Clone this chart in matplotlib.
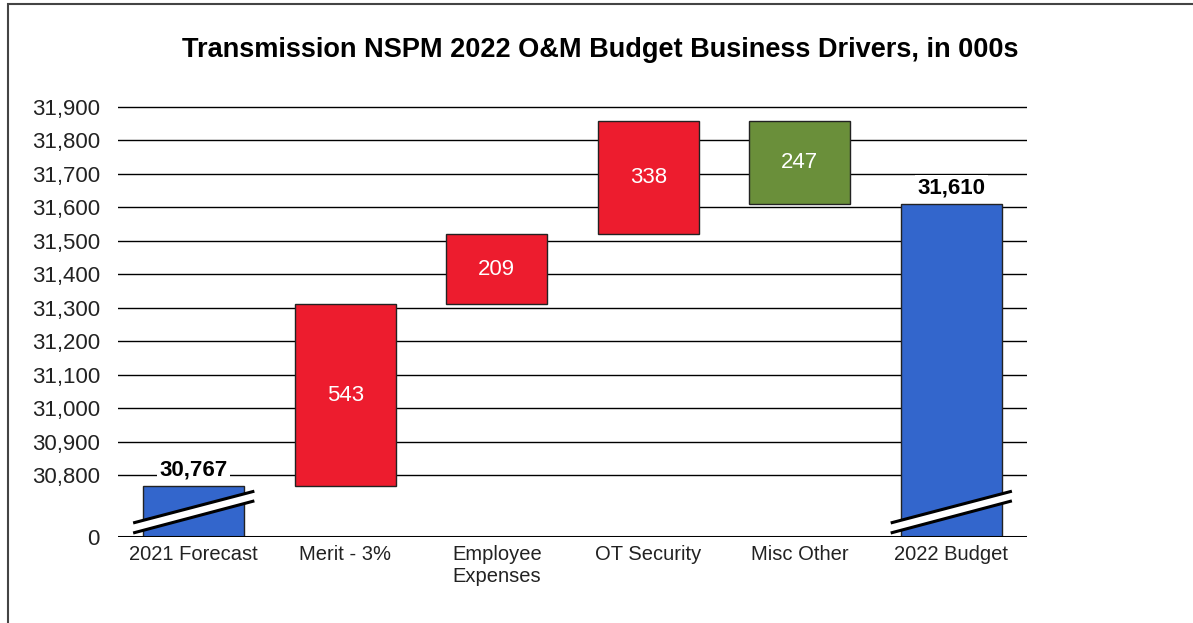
import matplotlib
matplotlib.use("Agg")
import matplotlib.pyplot as plt
from matplotlib.patches import Rectangle, Polygon

plt.rcParams['font.family'] = ['Liberation Sans', 'DejaVu Sans']

# waterfall data, in 000s
categories = ["2021 Forecast", "Merit - 3%", "Employee\nExpenses", "OT Security", "Misc Other", "2022 Budget"]
start_total = 30767
changes = [543, 209, 338, -247]
end_total = 31610
tick_values = [0, 30800, 30900, 31000, 31100, 31200, 31300, 31400, 31500, 31600, 31700, 31800, 31900]

BLUE = '#3366cc'
RED = '#ed1c2e'
GREEN = '#6a8f3a'

# broken axis: everything between 0 and ~30,615 is squeezed out
OFFSET = 30615


def to_axis(v):
    return 0 if v == 0 else v - OFFSET


fig = plt.figure(figsize=(11.93, 6.23), dpi=100)
ax = fig.add_axes([0.0989, 0.138, 0.762, 0.693])

# outer frame, runs off the right and bottom edge
fig.patches.append(Rectangle((8 / 1193, -0.1), 1.2, 1 - 4 / 623 + 0.1, transform=fig.transFigure,
                             fill=False, edgecolor='#444444', linewidth=1.5))

w = 0.667
x = list(range(len(categories)))

# totals
for xi, total in [(0, start_total), (5, end_total)]:
    ax.bar(xi, to_axis(total), width=w, color=BLUE, edgecolor='#222222', linewidth=1, zorder=2)
    ax.annotate(f"{total:,}", (xi, to_axis(total)), xytext=(0, 4), textcoords='offset points',
                ha='center', va='bottom', fontsize=16, fontweight='bold',
                bbox=dict(boxstyle='square,pad=0.1', fc='white', ec='none'), zorder=4)
    # break marker across the base of the bar
    x0, x1 = xi - 0.4, xi + 0.4
    ax.add_patch(Polygon([(x0, 12), (x1, 108), (x1, 137), (x0, 42)], closed=True,
                         facecolor='white', edgecolor='none', zorder=3))
    ax.plot([x0, x1], [12, 108], color='black', lw=2.2, zorder=3.5, solid_capstyle='butt')
    ax.plot([x0, x1], [42, 137], color='black', lw=2.2, zorder=3.5, solid_capstyle='butt')

# increments / decrements
running = start_total
for i, ch in enumerate(changes):
    lo, hi = min(running, running + ch), max(running, running + ch)
    color = RED if ch > 0 else GREEN
    ax.bar(x[i + 1], hi - lo, bottom=to_axis(lo), width=w, color=color,
           edgecolor='#222222', linewidth=1, zorder=2)
    ax.text(x[i + 1], to_axis((lo + hi) / 2), f"{abs(ch):,}", ha='center', va='center',
            color='white', fontsize=16, zorder=4)
    running += ch

ax.set_xlim(-0.5, 5.5)
ax.set_ylim(0, to_axis(31905))
ax.set_yticks([to_axis(v) for v in tick_values])
ax.set_yticklabels([f"{v:,}" for v in tick_values], fontsize=16, color='#222222')
ax.set_xticks(x)
ax.set_xticklabels(categories, fontsize=14.5, color='#222222', linespacing=1.2)
ax.tick_params(axis='y', length=0, pad=13)
ax.tick_params(axis='x', length=0, pad=6)

for v in tick_values[1:]:
    ax.axhline(to_axis(v), color='black', lw=1, zorder=1)
ax.axhline(0, color='black', lw=2.2, zorder=3)

for s in ax.spines.values():
    s.set_visible(False)

fig.text(0.5 + 4 / 1193, 1 - 50 / 623, "Transmission NSPM 2022 O&M Budget Business Drivers, in 000s",
         ha='center', va='center', fontsize=19.5, fontweight='bold')

fig.savefig('out.png', dpi=100)
